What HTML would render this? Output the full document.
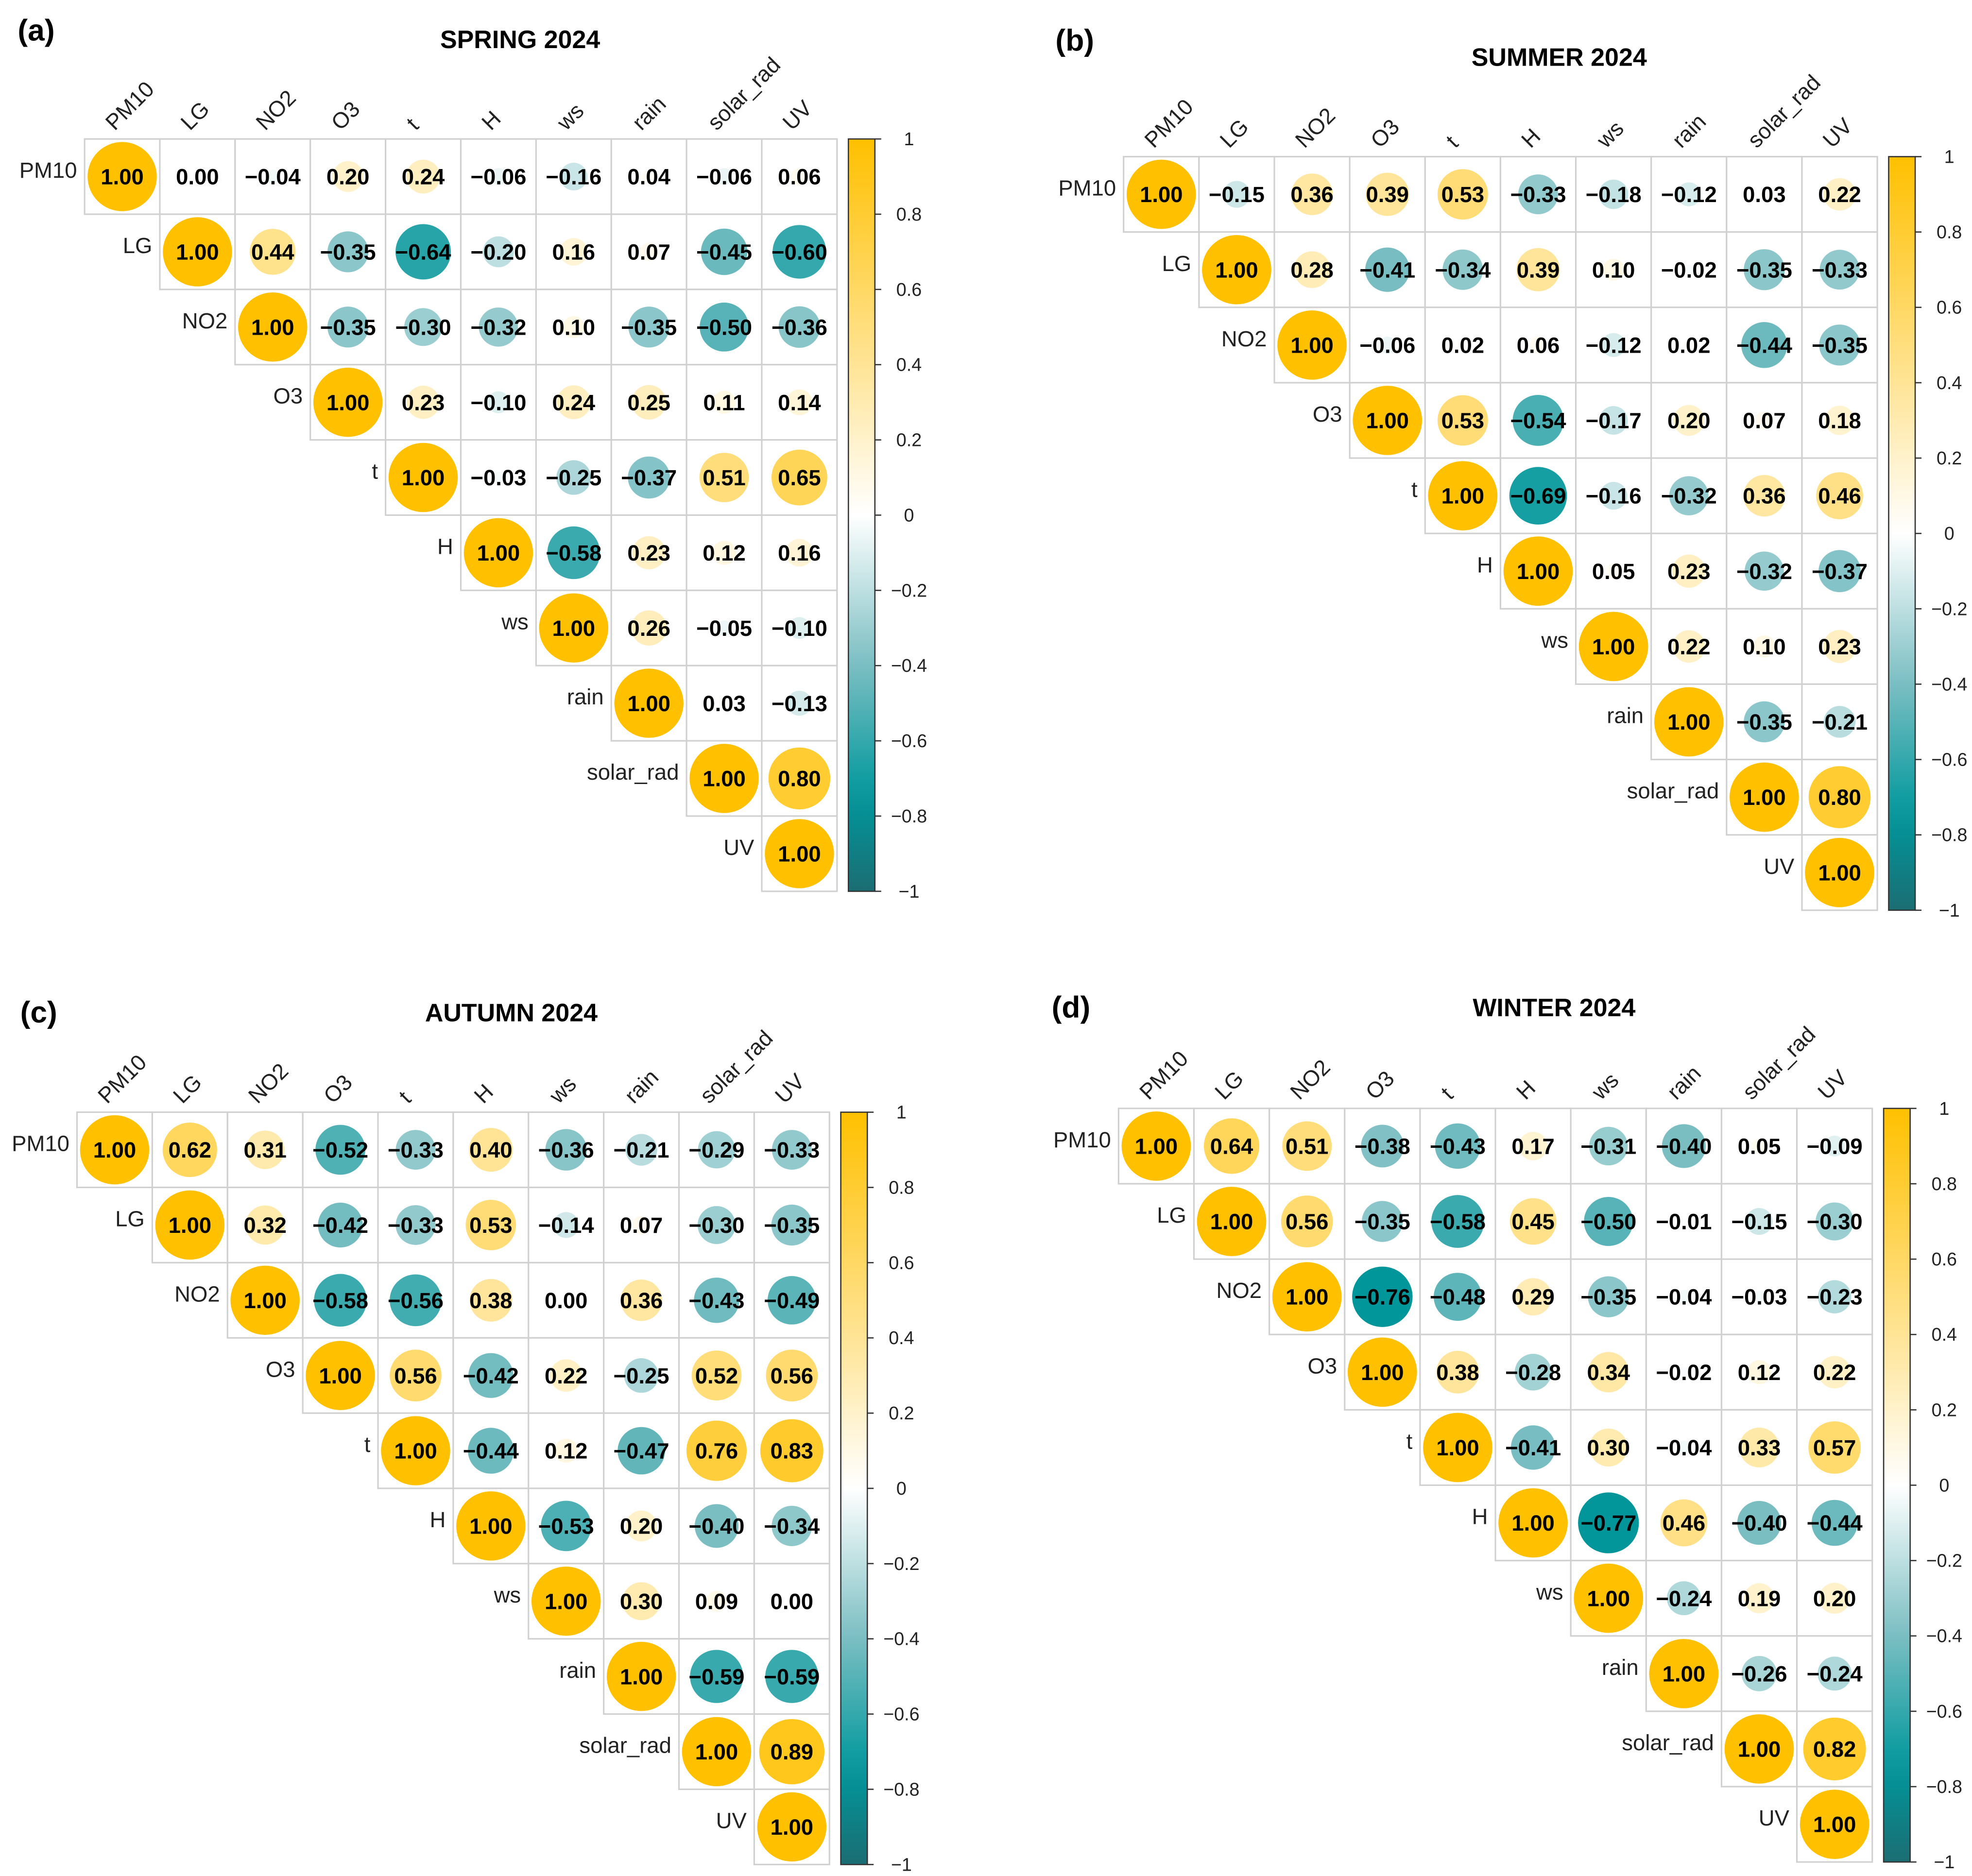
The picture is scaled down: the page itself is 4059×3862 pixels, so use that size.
<!DOCTYPE html>
<html><head><meta charset="utf-8"><style>
html,body{margin:0;padding:0;background:#fff;}
svg{display:block;}
text{font-family:"Liberation Sans",Arial,sans-serif;}
</style></head><body>
<svg id="fig" xmlns="http://www.w3.org/2000/svg" width="4059" height="3862" viewBox="0 0 1562 1486">
<rect x="0" y="0" width="1562" height="1486" fill="#fff"/>
</svg>
<script>
const vars = ["PM10","LG","NO2","O3","t","H","ws","rain","solar_rad","UV"];
const spring = [
 [1,0.00,-0.04,0.20,0.24,-0.06,-0.16,0.04,-0.06,0.06],
 [1,0.44,-0.35,-0.64,-0.20,0.16,0.07,-0.45,-0.60],
 [1,-0.35,-0.30,-0.32,0.10,-0.35,-0.50,-0.36],
 [1,0.23,-0.10,0.24,0.25,0.11,0.14],
 [1,-0.03,-0.25,-0.37,0.51,0.65],
 [1,-0.58,0.23,0.12,0.16],
 [1,0.26,-0.05,-0.10],
 [1,0.03,-0.13],
 [1,0.80],
 [1]];
const summer = [
 [1,-0.15,0.36,0.39,0.53,-0.33,-0.18,-0.12,0.03,0.22],
 [1,0.28,-0.41,-0.34,0.39,0.10,-0.02,-0.35,-0.33],
 [1,-0.06,0.02,0.06,-0.12,0.02,-0.44,-0.35],
 [1,0.53,-0.54,-0.17,0.20,0.07,0.18],
 [1,-0.69,-0.16,-0.32,0.36,0.46],
 [1,0.05,0.23,-0.32,-0.37],
 [1,0.22,0.10,0.23],
 [1,-0.35,-0.21],
 [1,0.80],
 [1]];
const autumn = [
 [1,0.62,0.31,-0.52,-0.33,0.40,-0.36,-0.21,-0.29,-0.33],
 [1,0.32,-0.42,-0.33,0.53,-0.14,0.07,-0.30,-0.35],
 [1,-0.58,-0.56,0.38,0.00,0.36,-0.43,-0.49],
 [1,0.56,-0.42,0.22,-0.25,0.52,0.56],
 [1,-0.44,0.12,-0.47,0.76,0.83],
 [1,-0.53,0.20,-0.40,-0.34],
 [1,0.30,0.09,0.00],
 [1,-0.59,-0.59],
 [1,0.89],
 [1]];
const winter = [
 [1,0.64,0.51,-0.38,-0.43,0.17,-0.31,-0.40,0.05,-0.09],
 [1,0.56,-0.35,-0.58,0.45,-0.50,-0.01,-0.15,-0.30],
 [1,-0.76,-0.48,0.29,-0.35,-0.04,-0.03,-0.23],
 [1,0.38,-0.28,0.34,-0.02,0.12,0.22],
 [1,-0.41,0.30,-0.04,0.33,0.57],
 [1,-0.77,0.46,-0.40,-0.44],
 [1,-0.24,0.19,0.20],
 [1,-0.26,-0.24],
 [1,0.82],
 [1]];
const tickVals = [1,0.8,0.6,0.4,0.2,0,-0.2,-0.4,-0.6,-0.8,-1];
const titles = ["SPRING 2024","SUMMER 2024","AUTUMN 2024","WINTER 2024"];
const tags = ["(a)","(b)","(c)","(d)"];

const NS="http://www.w3.org/2000/svg";
const svg=document.getElementById('fig');
function mk(tag,attrs,parent){const e=document.createElementNS(NS,tag);for(const k in attrs)e.setAttribute(k,attrs[k]);(parent||svg).appendChild(e);return e;}
const stops=[[-1,[27,109,114]],[-0.75,[0,152,156]],[-0.4,[122,190,194]],[0,[255,255,255]],[0.4,[255,228,150]],[1,[255,192,0]]];
function col(v){for(let i=0;i<stops.length-1;i++){const a=stops[i],b=stops[i+1];if(v<=b[0]){const t=(v-a[0])/(b[0]-a[0]);const c=a[1].map((x,j)=>Math.round(x+(b[1][j]-x)*t));return `rgb(${c[0]},${c[1]},${c[2]})`;}}return 'rgb(255,192,0)';}
function fmt(v){const s=Math.abs(v).toFixed(2);return (v<0?'\u2212':'')+s;}
function minus(v){return v<0?'\u2212'+Math.abs(v):String(v);}

const panels=[
 {data:spring,gx:67,gy:110,gw:596,tx:412,ty:38,lx:14,ly:32},
 {data:summer,gx:890,gy:124,gw:597,tx:1235,ty:52,lx:836,ly:40},
 {data:autumn,gx:61,gy:881,gw:596,tx:405,ty:809,lx:16,ly:810},
 {data:winter,gx:886,gy:878,gw:597,tx:1231,ty:805,lx:833,ly:806}];

panels.forEach((p,pi)=>{
 const g=mk('g',{});
 
 
 const cs=p.gw/10;
 const xS=j=>p.gx+j*cs, yS=i=>p.gy+i*cs;
 const rMax=cs*0.46;
 const tl=mk('text',{x:p.lx,y:p.ly,'font-size':24,'font-weight':'bold'},g);tl.textContent=tags[pi];
 
 const tt=mk('text',{x:p.tx,y:p.ty,'font-size':20,'font-weight':'bold','text-anchor':'middle'},g);tt.textContent=titles[pi];
 
 p.data.forEach((row,i)=>{row.forEach((v,k)=>{const j=i+k;
  const r=mk('rect',{x:xS(j),y:yS(i),width:cs,height:cs,fill:'#fff',stroke:'#d0d0d0','stroke-width':1.2},g);
  
 });});
 p.data.forEach((row,i)=>{row.forEach((v,k)=>{const j=i+k;
  const cx=xS(j)+cs/2, cy=yS(i)+cs/2;
  const c=mk('circle',{cx:cx,cy:cy,r:rMax*Math.sqrt(Math.abs(v)),fill:col(v)},g);
  
  const t=mk('text',{x:cx,y:cy+6.2,'font-size':17.5,'font-weight':'bold','text-anchor':'middle'},g);t.textContent=fmt(v);
  
 });});
 vars.forEach((n,i)=>{
  const rl=mk('text',{x:xS(i)-6,y:yS(i)+cs/2+1,'font-size':17.5,'text-anchor':'end','fill':'#222'},g);rl.textContent=n;
  
  const lx=xS(i)+cs/2-6, ly=p.gy-6;
  const cl=mk('text',{x:lx,y:ly,'font-size':17.5,'fill':'#222',transform:`rotate(-45 ${lx} ${ly})`},g);cl.textContent=n;
  
 });
 const bx=p.gx+p.gw+9, bw=21, by=p.gy, bh=p.gw;
 const gid='grad'+pi;
 const defs=mk('defs',{},g);const lg=mk('linearGradient',{id:gid,x1:0,y1:0,x2:0,y2:1},defs);
 for(let s=0;s<=20;s++){const v=1-s/10;mk('stop',{offset:(s/20),'stop-color':col(v)},lg);}
 const cb=mk('rect',{x:bx,y:by,width:bw,height:bh,fill:`url(#${gid})`,stroke:'#333','stroke-width':1},g);
 
 const cy2=v=>by+(1-v)/2*bh;
 tickVals.forEach(v=>{
  mk('line',{x1:bx+bw,x2:bx+bw+5,y1:cy2(v),y2:cy2(v),stroke:'#333','stroke-width':1},g);
  const t=mk('text',{x:bx+bw+27,y:cy2(v)+5,'font-size':14.5,'text-anchor':'middle','fill':'#222'},g);t.textContent=minus(v);
  
 });
});
</script>
</body></html>
